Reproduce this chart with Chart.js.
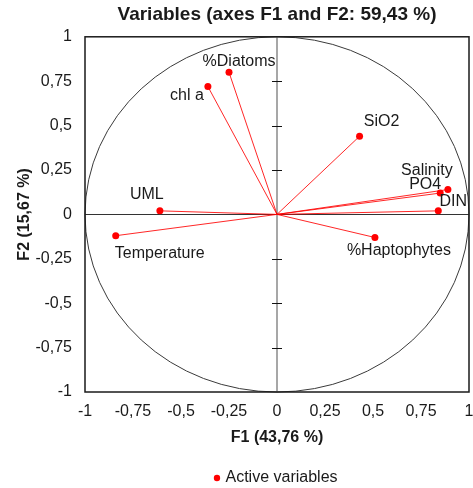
<!DOCTYPE html>
<html>
<head>
<meta charset="utf-8">
<title>Variables (axes F1 and F2)</title>
<script src="https://cdn.jsdelivr.net/npm/chart.js@4"></script>
<style>
    html, body { margin: 0; padding: 0; background: #fff; }
    #wrap { width: 473px; height: 488px; }
</style>
</head>
<body>
<div id="wrap"><canvas id="pcaChart" width="473" height="488"></canvas></div>
<script>
//loadings of the active variables on F1 / F2
const variables = ['%Diatoms', 'chl a', 'SiO2', 'Salinity', 'PO4', 'DIN', '%Haptophytes', 'UML', 'Temperature'];
const f1 = [-0.25, -0.36, 0.43, 0.89, 0.85, 0.84, 0.51, -0.61, -0.84];
const f2 = [0.80, 0.72, 0.44, 0.14, 0.12, 0.02, -0.13, 0.02, -0.12];
const axisTicks = [-1, -0.75, -0.5, -0.25, 0, 0.25, 0.5, 0.75, 1];

//where each name sits next to its dot (px)
const labelOffsets = {
    '%Diatoms': [10, -11],
    'chl a': [-21, 9],
    'SiO2': [22, -15],
    'Salinity': [-21, -19],
    'PO4': [-15, -8],
    'DIN': [15, -9],
    '%Haptophytes': [24, 13],
    'UML': [-13, -16],
    'Temperature': [44, 18]
};

const font = '"Liberation Sans", Arial, sans-serif';
const red = '#ff0000';

function commaNumber(v){
    return String(v).replace('.', ',');
}

const points = variables.map((name, i) => ({ x: f1[i], y: f2[i], name: name }));

//circle, axes through the origin, vectors
const circlePlugin = {
    id: 'circlePlugin',
    beforeDatasetsDraw(chart) {
        const ctx = chart.ctx;
        const xs = chart.scales.x, ys = chart.scales.y;
        const cx = xs.getPixelForValue(0), cy = ys.getPixelForValue(0);
        const rx = xs.getPixelForValue(1) - cx;
        const ry = cy - ys.getPixelForValue(1);
        const area = chart.chartArea;
        ctx.save();

        ctx.strokeStyle = '#3a3a3a';
        ctx.lineWidth = 1;
        ctx.beginPath();
        ctx.ellipse(cx, cy, rx, ry, 0, 0, Math.PI * 2);
        ctx.stroke();

        //horizontal axis
        ctx.strokeStyle = '#333';
        ctx.beginPath();
        ctx.moveTo(area.left, Math.round(cy) + 0.5);
        ctx.lineTo(area.right, Math.round(cy) + 0.5);
        ctx.stroke();

        //vertical axis
        ctx.strokeStyle = '#8a8a8a';
        ctx.lineWidth = 1.5;
        ctx.beginPath();
        ctx.moveTo(cx, area.top);
        ctx.lineTo(cx, area.bottom);
        ctx.stroke();

        //small ticks on vertical axis
        ctx.strokeStyle = '#111';
        ctx.lineWidth = 1;
        axisTicks.forEach(t => {
            if (t === 0 || Math.abs(t) === 1) return;
            const py = Math.round(ys.getPixelForValue(t)) + 0.5;
            ctx.beginPath();
            ctx.moveTo(cx - 5, py);
            ctx.lineTo(cx + 5, py);
            ctx.stroke();
        });

        //vectors from the origin
        ctx.strokeStyle = 'rgba(255,0,0,0.85)';
        ctx.lineWidth = 1;
        points.forEach(p => {
            ctx.beginPath();
            ctx.moveTo(cx, cy);
            ctx.lineTo(xs.getPixelForValue(p.x), ys.getPixelForValue(p.y));
            ctx.stroke();
        });
        ctx.restore();
    },
    afterDatasetsDraw(chart) {
        const ctx = chart.ctx;
        const xs = chart.scales.x, ys = chart.scales.y;
        const area = chart.chartArea;
        ctx.save();
        //frame
        ctx.strokeStyle = '#1a1a1a';
        ctx.lineWidth = 1.5;
        ctx.strokeRect(area.left, area.top, area.right - area.left, area.bottom - area.top);

        //variable names
        ctx.fillStyle = '#1a1a1a';
        ctx.font = '16px ' + font;
        ctx.textAlign = 'center';
        ctx.textBaseline = 'middle';
        points.forEach(p => {
            const off = labelOffsets[p.name];
            ctx.fillText(p.name, xs.getPixelForValue(p.x) + off[0], ys.getPixelForValue(p.y) + off[1]);
        });
        ctx.restore();
    }
};

const ctx = document.getElementById('pcaChart').getContext('2d');
const pcaChart = new Chart(ctx, {
    type: 'scatter',
    data: {
        datasets: [{
            label: 'Active variables',
            data: points,
            pointRadius: 3.5,
            pointHoverRadius: 3.5,
            backgroundColor: red,
            borderColor: red,
            borderWidth: 0
        }]
    },
    options: {
        responsive: false,
        animation: false,
        layout: { padding: { top: 0, right: 4, bottom: 0, left: 0 } },
        scales: {
            x: {
                min: -1,
                max: 1,
                afterBuildTicks: (scale) => { scale.ticks = axisTicks.map(v => ({ value: v })); },
                afterFit: (scale) => {
                    scale.height = 78;
                    // end labels may hang over the frame
                    scale.paddingLeft = 0;
                    scale.paddingRight = 0;
                },
                grid: { display: false, drawTicks: false },
                border: { display: false },
                ticks: {
                    padding: 10,
                    color: '#1a1a1a',
                    font: { family: font, size: 16 },
                    maxRotation: 0,
                    autoSkip: false,
                    callback: (v) => commaNumber(v)
                },
                title: {
                    display: true,
                    text: 'F1 (43,76 %)',
                    color: '#1a1a1a',
                    font: { family: font, size: 16, weight: 'bold' },
                    padding: { top: 0, bottom: 23 }
                }
            },
            y: {
                min: -1,
                max: 1,
                afterBuildTicks: (scale) => { scale.ticks = axisTicks.map(v => ({ value: v })); },
                afterFit: (scale) => { scale.width = 85; },
                grid: { display: false, drawTicks: false },
                border: { display: false },
                ticks: {
                    padding: 13,
                    color: '#1a1a1a',
                    font: { family: font, size: 16 },
                    autoSkip: false,
                    callback: (v) => commaNumber(v)
                },
                title: {
                    display: true,
                    text: 'F2 (15,67 %)',
                    color: '#1a1a1a',
                    font: { family: font, size: 16, weight: 'bold' },
                    padding: { top: 15, bottom: 0 }
                }
            }
        },
        plugins: {
            title: {
                display: true,
                fullSize: false,
                text: 'Variables (axes F1 and F2: 59,43 %)',
                color: '#1a1a1a',
                font: { family: font, size: 19, weight: 'bold' },
                padding: { top: 3, bottom: 11 }
            },
            legend: {
                position: 'bottom',
                fullSize: false,
                maxHeight: 18,
                labels: {
                    usePointStyle: true,
                    pointStyle: 'circle',
                    boxWidth: 1,
                    boxHeight: 4.5,
                    padding: 0,
                    color: '#1a1a1a',
                    font: { family: font, size: 16 }
                }
            },
            tooltip: { enabled: false }
        }
    },
    plugins: [circlePlugin]
});
</script>
</body>
</html>
